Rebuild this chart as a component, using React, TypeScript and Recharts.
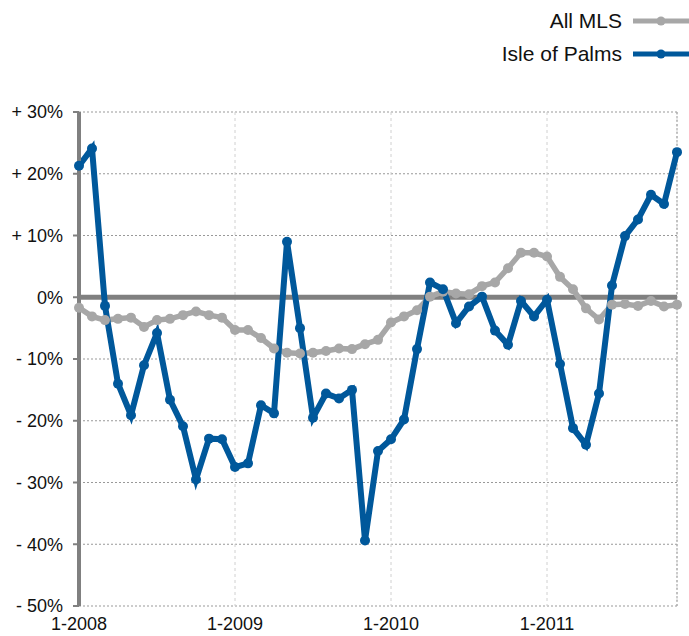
import {
  LineChart,
  Line,
  XAxis,
  YAxis,
  CartesianGrid,
  ReferenceLine,
} from "recharts";

const years = [2008, 2009, 2010, 2011];
const months = years
  .flatMap((y) => [1, 2, 3, 4, 5, 6, 7, 8, 9, 10, 11, 12].map((m) => `${m}-${y}`))
  .slice(0, 47);

const xTicks = ["1-2008", "1-2009", "1-2010", "1-2011"];
const yTicks = [-50, -40, -30, -20, -10, 0, 10, 20, 30];

// % change, Jan 2008 .. Nov 2011
const allMls = [
  -1.7, -3.1, -3.7, -3.5, -3.3, -4.8, -3.7, -3.5, -2.9, -2.3, -2.9, -3.3,
  -5.3, -5.3, -6.6, -8.3, -9.0, -9.1, -9.0, -8.7, -8.3, -8.4, -7.6, -6.9,
  -4.1, -3.1, -2.1, 0.1, 0.9, 0.6, 0.5, 1.8, 2.4, 4.7, 7.2, 7.2,
  6.6, 3.3, 1.3, -1.8, -3.6, -1.2, -1.1, -1.4, -0.6, -1.5, -1.2,
];
const isleOfPalms = [
  21.3, 24.1, -1.4, -14.0, -19.1, -11.0, -5.8, -16.6, -20.9, -29.5, -22.9, -23.0,
  -27.5, -26.9, -17.5, -18.8, 9.0, -5.0, -19.5, -15.6, -16.4, -15.0, -39.4, -24.9,
  -23.0, -19.8, -8.4, 2.4, 1.3, -4.2, -1.5, 0.1, -5.4, -7.7, -0.6, -3.1,
  -0.4, -10.8, -21.2, -23.9, -15.6, 1.9, 9.9, 12.6, 16.6, 15.1, 23.5,
];

const series = [
  { key: "allMls", name: "All MLS", color: "#a7a7a7", width: 5.5 },
  { key: "isle", name: "Isle of Palms", color: "#00589b", width: 6 },
];

const data = months.map((month, i) => ({
  month,
  allMls: allMls[i],
  isle: isleOfPalms[i],
}));

const font = '"Liberation Sans", Arial, Helvetica, sans-serif';

const fmtPct = (v: number) => (v > 0 ? `+ ${v}%` : v < 0 ? `- ${-v}%` : "0%");

export default function App() {
  return (
    <div style={{ position: "absolute", left: 0, top: 0, width: 689, height: 636, fontFamily: font }}>
      <LineChart
        width={689}
        height={636}
        data={data}
        margin={{ top: 112, right: 12, bottom: 0, left: 0 }}
      >
        <CartesianGrid horizontal={true} vertical={false} stroke="#999" strokeDasharray="2 2" />
        <CartesianGrid horizontal={false} vertical={true} stroke="#d0d0d0" strokeDasharray="3 3" />
        <XAxis
          dataKey="month"
          ticks={xTicks}
          interval={0}
          axisLine={false}
          tickLine={false}
          height={30}
          tickMargin={5}
          tick={{ fill: "#111", fontSize: 18, fontFamily: font }}
        />
        <YAxis
          domain={[-50, 30]}
          ticks={yTicks}
          width={79}
          tickFormatter={fmtPct}
          axisLine={{ stroke: "#808080", strokeWidth: 4 }}
          tickLine={{ stroke: "#808080", strokeWidth: 2 }}
          tickSize={6}
          tickMargin={10}
          tick={{ fill: "#111", fontSize: 18, fontFamily: font }}
        />
        <ReferenceLine x={months[months.length - 1]} stroke="#999" strokeDasharray="2 2" />
        <ReferenceLine y={0} stroke="#808080" strokeWidth={5} />
        {series.map((s) => (
          <Line
            key={s.key}
            dataKey={s.key}
            name={s.name}
            stroke={s.color}
            strokeWidth={s.width}
            dot={{ r: 5, fill: s.color, stroke: "none" }}
            isAnimationActive={false}
          />
        ))}
      </LineChart>
      {series.map((s, i) => (
        <div
          key={s.key}
          style={{
            position: "absolute",
            right: 0,
            top: 9 + i * 33,
            display: "flex",
            alignItems: "center",
            fontSize: 21,
            color: "#111",
          }}
        >
          <span>{s.name}</span>
          <svg width={56} height={14} style={{ marginLeft: 11 }}>
            <line x1={0} y1={7} x2={56} y2={7} stroke={s.color} strokeWidth={5} />
            <circle cx={28} cy={7} r={4.5} fill={s.color} />
          </svg>
        </div>
      ))}
    </div>
  );
}
